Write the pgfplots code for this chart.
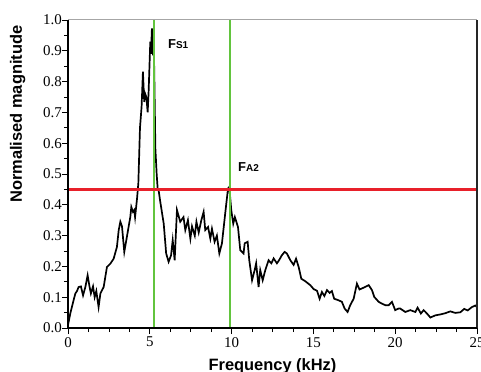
\documentclass[border=0pt]{standalone}
\usepackage{fontspec}
\setmainfont{Liberation Sans}
\newfontfamily\tickfont{Liberation Serif}
\usepackage{pgfplots}
\pgfplotsset{compat=1.18}
\definecolor{vgreen}{RGB}{98,196,62}
\definecolor{hred}{RGB}{232,32,42}
\begin{document}
\begin{tikzpicture}
\begin{axis}[
  name=ax, at={(0,0)}, anchor=south west,
  scale only axis, width=409bp, height=308bp,
  xmin=0, xmax=25, ymin=0, ymax=1,
  clip=false,
  axis line style={draw=none},
  xtick={0,5,10,15,20,25}, minor x tick num=3,
  ytick={0,0.1,0.2,0.3,0.4,0.5,0.6,0.7,0.8,0.9,1.0}, minor y tick num=1,
  tick align=outside, xtick pos=bottom, ytick pos=left,
  major tick length=6bp, minor tick length=4bp,
  every tick/.style={black, line width=0.8pt},
  /pgf/number format/assume math mode=true,
  yticklabel style={font=\tickfont\fontsize{15}{17}\selectfont, /pgf/number format/fixed, /pgf/number format/precision=1, /pgf/number format/fixed zerofill, inner xsep=0pt},
  xticklabel style={font=\tickfont\fontsize{15}{17}\selectfont, inner ysep=3bp},
]
\addplot[black, line width=1.7bp] coordinates {
(0,0.01) (0.14,0.047) (0.34,0.09) (0.45,0.112) (0.55,0.12) (0.65,0.133) (0.79,0.135) (0.92,0.106) (1.06,0.133) (1.2,0.171) (1.32,0.133) (1.4,0.112) (1.53,0.135) (1.63,0.1) (1.73,0.12) (1.87,0.068) (1.98,0.112) (2.18,0.133) (2.38,0.198) (2.59,0.209) (2.79,0.225) (2.99,0.263) (3.1,0.318) (3.2,0.345) (3.3,0.33) (3.44,0.247) (3.6,0.296) (3.81,0.361) (3.87,0.393) (3.97,0.377) (4.05,0.383) (4.1,0.36) (4.22,0.42) (4.3,0.47) (4.4,0.65) (4.5,0.72) (4.58,0.832) (4.66,0.734) (4.72,0.76) (4.79,0.75) (4.87,0.70) (4.93,0.77) (5.03,0.93) (5.07,0.89) (5.13,0.973) (5.19,0.885) (5.23,0.95) (5.27,0.84) (5.34,0.583) (5.42,0.5) (5.48,0.453) (5.54,0.447) (5.64,0.41) (5.85,0.339) (6.0,0.242) (6.15,0.215) (6.3,0.236) (6.4,0.285) (6.52,0.22) (6.66,0.383) (6.86,0.345) (7.06,0.36) (7.17,0.318) (7.33,0.35) (7.48,0.29) (7.58,0.33) (7.75,0.30) (7.85,0.345) (7.99,0.31) (8.15,0.35) (8.29,0.377) (8.39,0.318) (8.56,0.328) (8.7,0.29) (8.8,0.322) (8.96,0.28) (9.1,0.30) (9.25,0.242) (9.41,0.275) (9.61,0.372) (9.78,0.453) (9.86,0.458) (9.98,0.383) (10.1,0.339) (10.2,0.36) (10.39,0.328) (10.53,0.253) (10.73,0.242) (10.8,0.275) (10.98,0.28) (11.08,0.22) (11.25,0.155) (11.41,0.188) (11.5,0.21) (11.65,0.133) (11.75,0.188) (11.9,0.155) (12.06,0.188) (12.26,0.22) (12.43,0.21) (12.57,0.226) (12.77,0.21) (12.9,0.22) (13.07,0.236) (13.24,0.247) (13.38,0.242) (13.59,0.22) (13.79,0.205) (13.94,0.225) (14.1,0.198) (14.26,0.16) (14.5,0.152) (14.81,0.139) (15.02,0.126) (15.22,0.121) (15.38,0.095) (15.52,0.117) (15.67,0.104) (15.83,0.123) (15.99,0.114) (16.13,0.12) (16.27,0.095) (16.54,0.09) (16.74,0.085) (16.91,0.063) (17.09,0.052) (17.25,0.074) (17.46,0.095) (17.66,0.144) (17.82,0.125) (18.07,0.131) (18.38,0.139) (18.58,0.123) (18.72,0.101) (18.99,0.085) (19.19,0.079) (19.4,0.074) (19.6,0.074) (19.8,0.085) (20.0,0.058) (20.2,0.063) (20.31,0.063) (20.62,0.052) (20.92,0.058) (21.23,0.052) (21.37,0.066) (21.57,0.047) (21.74,0.058) (21.94,0.047) (22.15,0.034) (22.45,0.041) (22.76,0.044) (23.06,0.048) (23.37,0.054) (23.67,0.049) (23.98,0.051) (24.22,0.062) (24.43,0.057) (24.69,0.068) (24.9,0.073) (25,0.068)
};
\addplot[vgreen, line width=2bp] coordinates {(5.27,0) (5.27,1)};
\addplot[vgreen, line width=2bp] coordinates {(9.89,0) (9.89,1)};
\addplot[hred, line width=3bp] coordinates {(0,0.45) (25,0.45)};
\draw[gray!70, line width=1bp] (rel axis cs:0,1) -- (rel axis cs:1,1);
\draw[black!85, line width=1.2bp] (rel axis cs:1,0) -- (rel axis cs:1,1);
\draw[black, line width=1.6bp] (rel axis cs:0,1) -- (rel axis cs:0,0) -- (rel axis cs:1,0);
\node[anchor=base west, inner sep=0pt] at (axis cs:6.11,0.907) {{\fontsize{13}{15}\selectfont\bfseries F}{\fontsize{10}{12}\selectfont\bfseries S1}};
\node[anchor=base west, inner sep=0pt] at (axis cs:10.39,0.507) {{\fontsize{13}{15}\selectfont\bfseries F}{\fontsize{10}{12}\selectfont\bfseries A2}};
\end{axis}
\node[anchor=base, inner sep=0pt, font=\fontsize{16.5}{19}\selectfont\bfseries] at (204.5bp,-42bp) {Frequency (kHz)};
\node[anchor=base, rotate=90, inner sep=0pt, font=\fontsize{16.5}{19}\selectfont\bfseries] at (-46bp,213.8bp) {Normalised magnitude};
\pgfresetboundingbox
\path[use as bounding box] (-68bp,-44bp) rectangle (413bp,328bp);
\end{tikzpicture}
\end{document}
